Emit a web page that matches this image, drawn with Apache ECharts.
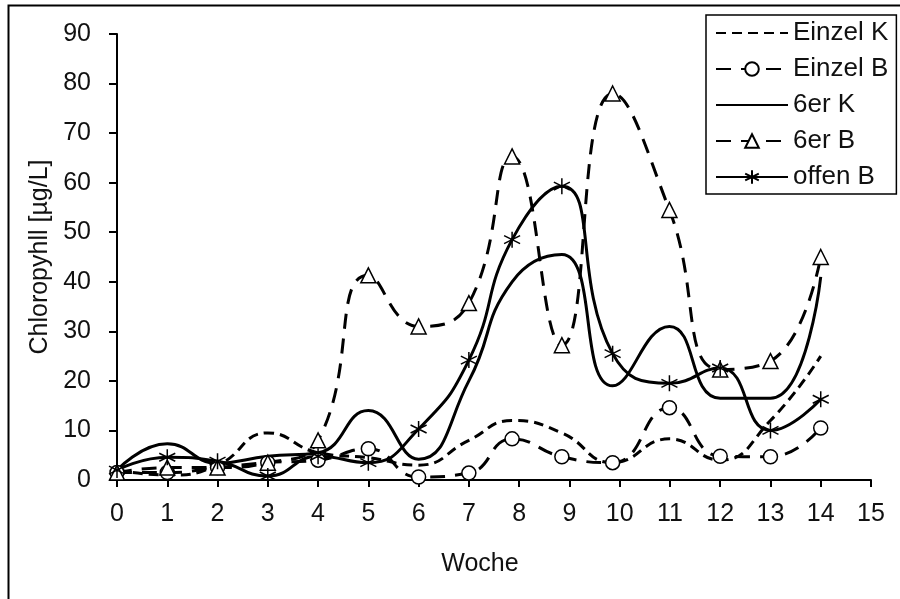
<!DOCTYPE html>
<html>
<head>
<meta charset="utf-8">
<script src="https://cdn.jsdelivr.net/npm/echarts@6/dist/echarts.min.js"></script>
<style>
html,body{margin:0;padding:0;background:#fff;}
#chart{width:900px;height:599px;}
</style>
</head>
<body>
<div id="chart"></div>
<script>
// Week positions of the samples
var weeks = [0, 1, 2, 3, 4, 5, 6, 7, 7.86, 8.85, 9.86, 10.99, 12, 13, 14];
// Chlorophyll values [µg/L]
var einzelK = [2, 1, 3, 9.5, 5.5, 4.5, 3, 8, 12, 9.5, 3.5, 8.3, 4, 12, 25];
var einzelB = [1.5, 1.5, 2.5, 3.5, 4, 6.3, 0.6, 1.4, 8.3, 4.7, 3.5, 14.6, 4.8, 4.7, 10.5];
var sechserK = [2, 7.3, 3.4, 4.8, 5.5, 14, 4.2, 20, 40, 45.5, 19, 31, 16.5, 16.5, 41];
var sechserB = [1.5, 2.5, 2.5, 3.5, 8, 41.3, 31, 35.7, 65.3, 27.2, 78, 54.5, 22.3, 24, 45];
var offenB = [2, 4.6, 3.8, 0.8, 4.8, 3.5, 10.3, 24.2, 48.5, 59.3, 25.5, 19.5, 22.6, 10, 16.3];

var seriesNames = ['Einzel K', 'Einzel B', '6er K', '6er B', 'offen B'];
var xTicks = [0, 1, 2, 3, 4, 5, 6, 7, 8, 9, 10, 11, 12, 13, 14, 15];
var yTicks = [0, 10, 20, 30, 40, 50, 60, 70, 80, 90];

function pairs(vals) {
  return weeks.map(function (w, i) { return [w, vals[i]]; });
}

var FONT = '"Liberation Sans", Arial, Helvetica, sans-serif';
var asterisk = 'path://M0,-1L0,1M-0.87,-0.5L0.87,0.5M-0.87,0.5L0.87,-0.5';

var chart = echarts.init(document.getElementById('chart'), null, {renderer: 'canvas'});

function lineSeries(name, vals, dash, symbol, size) {
  return {
    name: name,
    type: 'line',
    data: pairs(vals),
    smooth: 0.5,
    symbol: symbol,
    symbolSize: size,
    showSymbol: symbol !== 'none',
    lineStyle: {color: '#000', width: 3, type: dash},
    itemStyle: {color: '#fff', borderColor: '#000', borderWidth: 1.5},
    emphasis: {disabled: true},
    z: 2
  };
}

var noMarker = {opacity: 0};

var option = {
  animation: false,
  backgroundColor: '#fff',
  textStyle: {fontFamily: FONT},
  graphic: [{
    type: 'rect',
    shape: {x: 8.5, y: 5.5, width: 1000, height: 1000},
    style: {fill: 'none', stroke: '#000', lineWidth: 2},
    silent: true,
    z: -1
  }],
  grid: {left: 117, right: 29, top: 34, bottom: 119, containLabel: false},
  legend: {
    orient: 'vertical',
    left: 706,
    top: 15,
    padding: [5, 8, 4, 9],
    itemGap: 10,
    itemWidth: 72,
    itemHeight: 17,
    backgroundColor: '#fff',
    borderColor: '#000',
    borderWidth: 1.5,
    borderRadius: 0,
    textStyle: {fontFamily: FONT, fontSize: 26, color: '#111', lineHeight: 25},
    data: [
      {name: seriesNames[0], itemStyle: noMarker},
      {name: seriesNames[1]},
      {name: seriesNames[2], itemStyle: noMarker},
      {name: seriesNames[3]},
      {name: seriesNames[4]}
    ]
  },
  xAxis: {
    type: 'value',
    min: 0,
    max: 15,
    interval: 1,
    name: 'Woche',
    nameLocation: 'middle',
    nameGap: 72,
    nameTextStyle: {fontFamily: FONT, fontSize: 25, color: '#111', padding: [0, 28, 0, 0]},
    axisLine: {show: true, onZero: false, lineStyle: {color: '#000', width: 2}},
    axisTick: {show: true, length: 7, lineStyle: {color: '#000', width: 2}},
    axisLabel: {fontFamily: FONT, fontSize: 25, color: '#111', margin: 22,
      formatter: function (v) { return xTicks.indexOf(v) >= 0 ? String(v) : ''; }},
    splitLine: {show: false}
  },
  yAxis: {
    type: 'value',
    min: 0,
    max: 90,
    interval: 10,
    name: 'Chloropyhll [µg/L]',
    nameLocation: 'middle',
    nameGap: 64,
    nameRotate: 90,
    nameTextStyle: {fontFamily: FONT, fontSize: 25, color: '#111'},
    axisLine: {show: true, lineStyle: {color: '#000', width: 2}},
    axisTick: {show: true, length: 8, lineStyle: {color: '#000', width: 2}},
    axisLabel: {fontFamily: FONT, fontSize: 25, color: '#111', margin: 26,
      formatter: function (v) { return yTicks.indexOf(v) >= 0 ? String(v) : ''; }},
    splitLine: {show: false}
  },
  series: [
    lineSeries(seriesNames[0], einzelK, [10, 6], 'none', 0),
    lineSeries(seriesNames[1], einzelB, [15, 10], 'circle', 14),
    lineSeries(seriesNames[2], sechserK, 'solid', 'none', 0),
    lineSeries(seriesNames[3], sechserB, [15, 10], 'triangle', 15),
    lineSeries(seriesNames[4], offenB, 'solid', asterisk, 16)
  ]
};
chart.setOption(option);
</script>
</body>
</html>
